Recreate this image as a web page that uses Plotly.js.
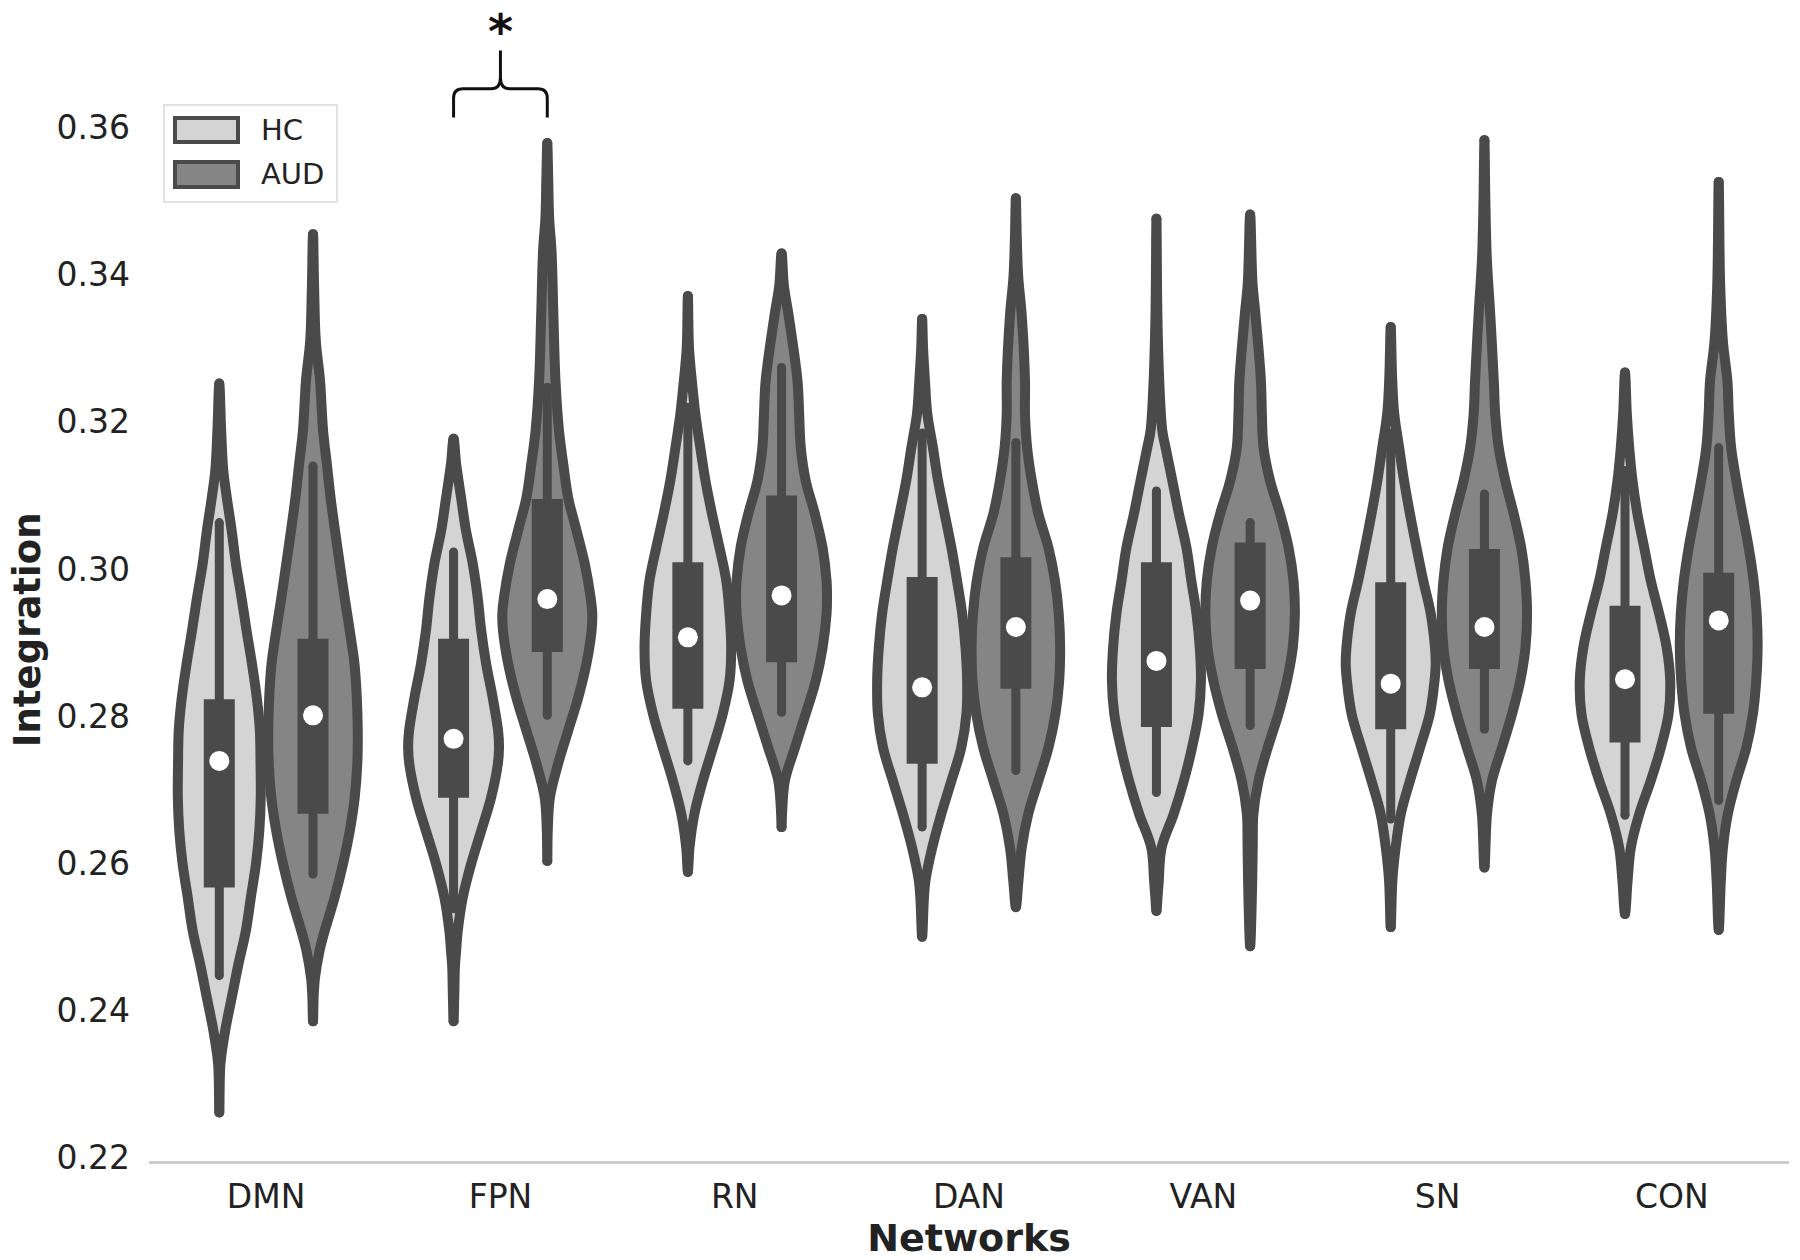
<!DOCTYPE html>
<html><head><meta charset="utf-8">
<script src="https://cdn.plot.ly/plotly-3.0.1.min.js"></script>
<style>html,body{margin:0;padding:0;background:#fff}</style>
</head><body><div id="chart" style="width:1800px;height:1260px"></div>
<script>
// ---------------- data ----------------
const networks = ['DMN','FPN','RN','DAN','VAN','SN','CON'];
const groups = ['HC','AUD'];
const yTicks = [0.22,0.24,0.26,0.28,0.30,0.32,0.34,0.36];

// inner box statistics
const hcQ1  = [0.2567,0.2689,0.2810,0.2735,0.2785,0.2782,0.2764];
const hcQ3  = [0.2823,0.2905,0.3009,0.2989,0.3009,0.2982,0.2950];
const hcMed = [0.2739,0.2769,0.2907,0.2839,0.2875,0.2844,0.2850];
const hcLo  = [0.2447,0.2538,0.2739,0.2649,0.2696,0.2660,0.2665];
const hcHi  = [0.3063,0.3023,0.3220,0.3185,0.3106,0.3185,0.3134];
const audQ1  = [0.2667,0.2887,0.2873,0.2837,0.2864,0.2864,0.2803];
const audQ3  = [0.2905,0.3095,0.3100,0.3016,0.3036,0.3027,0.2995];
const audMed = [0.2801,0.2959,0.2964,0.2921,0.2957,0.2921,0.2930];
const audLo  = [0.2585,0.2801,0.2805,0.2726,0.2787,0.2782,0.2685];
const audHi  = [0.3140,0.3247,0.3274,0.3172,0.3063,0.3102,0.3165];

// violin density outlines: levels (Integration) and half-widths (category units)
const dmnHcY  = [0.2261,0.2327,0.2372,0.2420,0.2460,0.2509,0.2554,0.2600,0.2645,0.2689,0.2736,0.2781,0.2825,0.2872,0.2917,0.2961,0.3007,0.3052,0.3097,0.3134,0.3188,0.3252];
const dmnHcW  = [0,0.005,0.025,0.055,0.080,0.114,0.135,0.157,0.171,0.177,0.176,0.173,0.160,0.139,0.116,0.095,0.071,0.053,0.032,0.017,0.008,0];
const dmnAudY = [0.2385,0.2420,0.2443,0.2481,0.2508,0.2553,0.2599,0.2644,0.2689,0.2735,0.2780,0.2825,0.2871,0.2916,0.2961,0.3007,0.3052,0.3097,0.3143,0.3188,0.3256,0.3310,0.3380,0.3455];
const dmnAudW = [0,0.003,0.008,0.028,0.050,0.092,0.128,0.157,0.178,0.189,0.191,0.187,0.177,0.157,0.135,0.114,0.094,0.075,0.059,0.043,0.030,0.012,0.005,0];
const fpnHcY  = [0.2385,0.2420,0.2460,0.2481,0.2508,0.2553,0.2599,0.2644,0.2689,0.2735,0.2758,0.2780,0.2825,0.2871,0.2916,0.2961,0.3007,0.3052,0.3097,0.3143,0.3177];
const fpnHcW  = [0,0.003,0.006,0.011,0.018,0.039,0.075,0.118,0.160,0.189,0.194,0.190,0.167,0.139,0.118,0.103,0.082,0.053,0.032,0.011,0];
const fpnAudY = [0.2603,0.2644,0.2689,0.2735,0.2780,0.2825,0.2871,0.2916,0.2939,0.2961,0.3007,0.3052,0.3097,0.3143,0.3188,0.3256,0.3345,0.3433,0.3477,0.3530,0.3579];
const fpnAudW = [0,0.002,0.011,0.046,0.089,0.132,0.167,0.189,0.192,0.185,0.160,0.125,0.089,0.068,0.050,0.035,0.026,0.018,0.008,0.004,0];
const rnHcY   = [0.2588,0.2621,0.2667,0.2712,0.2757,0.2803,0.2848,0.2893,0.2939,0.2984,0.3029,0.3075,0.3120,0.3165,0.3211,0.3256,0.3300,0.3371];
const rnHcW   = [0,0.007,0.028,0.064,0.107,0.149,0.178,0.185,0.178,0.164,0.135,0.103,0.075,0.053,0.032,0.017,0.005,0];
const rnAudY  = [0.2649,0.2667,0.2712,0.2757,0.2803,0.2848,0.2893,0.2939,0.2961,0.2984,0.3029,0.3075,0.3120,0.3165,0.3211,0.3256,0.3345,0.3385,0.3429];
const rnAudW  = [0,0.002,0.014,0.057,0.103,0.146,0.175,0.192,0.194,0.192,0.175,0.142,0.103,0.082,0.075,0.068,0.030,0.010,0];
const danHcY  = [0.2500,0.2549,0.2576,0.2621,0.2667,0.2712,0.2757,0.2803,0.2848,0.2893,0.2939,0.2984,0.3029,0.3075,0.3120,0.3165,0.3211,0.3256,0.3300,0.3340];
const danHcW  = [0,0.007,0.014,0.043,0.082,0.125,0.167,0.189,0.192,0.185,0.171,0.149,0.125,0.096,0.068,0.046,0.022,0.012,0.004,0];
const danAudY = [0.2540,0.2576,0.2621,0.2667,0.2712,0.2757,0.2803,0.2848,0.2893,0.2939,0.2984,0.3029,0.3075,0.3120,0.3165,0.3211,0.3256,0.3345,0.3398,0.3450,0.3504];
const danAudW = [0,0.011,0.025,0.053,0.096,0.139,0.169,0.185,0.189,0.183,0.167,0.139,0.096,0.068,0.048,0.039,0.039,0.025,0.010,0.004,0];
const vanHcY  = [0.2535,0.2555,0.2576,0.2621,0.2667,0.2712,0.2757,0.2803,0.2848,0.2893,0.2939,0.2984,0.3029,0.3075,0.3120,0.3165,0.3188,0.3256,0.3345,0.3476];
const vanHcW  = [0,0.005,0.010,0.022,0.074,0.117,0.152,0.180,0.190,0.185,0.171,0.149,0.128,0.096,0.068,0.039,0.025,0.012,0.004,0];
const vanAudY = [0.2487,0.2549,0.2621,0.2667,0.2712,0.2757,0.2803,0.2848,0.2893,0.2939,0.2984,0.3029,0.3075,0.3120,0.3165,0.3211,0.3256,0.3345,0.3389,0.3482];
const vanAudW = [0,0.007,0.011,0.014,0.036,0.075,0.121,0.157,0.182,0.191,0.185,0.164,0.128,0.085,0.057,0.050,0.046,0.023,0.010,0];
const snHcY   = [0.2513,0.2576,0.2621,0.2667,0.2712,0.2757,0.2803,0.2848,0.2871,0.2893,0.2939,0.2984,0.3029,0.3075,0.3120,0.3165,0.3211,0.3260,0.3329];
const snHcW   = [0,0.007,0.021,0.043,0.082,0.125,0.167,0.187,0.192,0.189,0.171,0.139,0.110,0.082,0.057,0.036,0.015,0.006,0];
const snAudY  = [0.2594,0.2667,0.2712,0.2757,0.2803,0.2848,0.2893,0.2939,0.2984,0.3029,0.3075,0.3120,0.3165,0.3211,0.3256,0.3345,0.3424,0.3500,0.3583];
const snAudW  = [0,0.011,0.032,0.075,0.118,0.153,0.175,0.182,0.175,0.157,0.125,0.089,0.061,0.046,0.040,0.025,0.010,0.004,0];
const conHcY  = [0.2531,0.2576,0.2621,0.2667,0.2712,0.2757,0.2803,0.2848,0.2893,0.2939,0.2984,0.3029,0.3075,0.3120,0.3165,0.3210,0.3267];
const conHcW  = [0,0.011,0.025,0.061,0.110,0.153,0.186,0.193,0.178,0.146,0.110,0.082,0.053,0.032,0.018,0.008,0];
const conAudY = [0.2509,0.2576,0.2621,0.2667,0.2712,0.2757,0.2803,0.2848,0.2893,0.2939,0.2984,0.3029,0.3075,0.3120,0.3165,0.3211,0.3256,0.3309,0.3389,0.3526];
const conAudW = [0,0.009,0.018,0.039,0.075,0.118,0.146,0.160,0.166,0.162,0.149,0.128,0.101,0.075,0.053,0.043,0.037,0.018,0.006,0];

const hcProfilesY  = [dmnHcY, fpnHcY, rnHcY, danHcY, vanHcY, snHcY, conHcY];
const hcProfilesW  = [dmnHcW, fpnHcW, rnHcW, danHcW, vanHcW, snHcW, conHcW];
const audProfilesY = [dmnAudY, fpnAudY, rnAudY, danAudY, vanAudY, snAudY, conAudY];
const audProfilesW = [dmnAudW, fpnAudW, rnAudW, danAudW, vanAudW, snAudW, conAudW];

// significance marker (FPN)
const sigCategory = 1;
const sigLabel = '*';

// ---------------- styling ----------------
const OUTLINE = '#4a4a4a';
const HC_FILL = '#d4d4d4';
const AUD_FILL = '#858585';
const TEXT = '#222222';
const DODGE = 0.2;
const LW = 10;
const FONT = 'DejaVu Sans, Liberation Sans, sans-serif';

const traces = [];
const tipX = [], tipY = [];

function addViolin(pos, ys, ws, fill, name) {
  const xs = [], yy = [];
  for (let i = 0; i < ys.length; i++) { xs.push(pos + ws[i]); yy.push(ys[i]); }
  for (let i = ys.length - 2; i >= 0; i--) { xs.push(pos - ws[i]); yy.push(ys[i]); }
  traces.push({
    type: 'scatter', mode: 'lines', x: xs, y: yy, name: name,
    fill: 'toself', fillcolor: fill,
    line: {color: OUTLINE, width: LW, shape: 'spline', smoothing: 1},
    hoverinfo: 'skip', showlegend: false
  });
  tipX.push(pos, pos); tipY.push(ys[0], ys[ys.length - 1]);
}

networks.forEach((n, i) => {
  addViolin(i - DODGE, hcProfilesY[i], hcProfilesW[i], HC_FILL, 'HC');
  addViolin(i + DODGE, audProfilesY[i], audProfilesW[i], AUD_FILL, 'AUD');
});

traces.push({type:'scatter', mode:'markers', x: tipX, y: tipY,
  marker:{color: OUTLINE, size: LW}, hoverinfo:'skip', showlegend:false});

function innerBox(offset, q1, q3, med, lo, hi) {
  const wx = [], wy = [], bx = [], by = [], mx = [], capX = [], capY = [];
  networks.forEach((n, i) => {
    const p = i + offset;
    wx.push(p, p, null); wy.push(lo[i], hi[i], null);
    bx.push(p, p, null); by.push(q1[i], q3[i], null);
    mx.push(p);
    capX.push(p, p); capY.push(lo[i], hi[i]);
  });
  traces.push({type:'scatter', mode:'lines', x: wx, y: wy,
    line:{color: OUTLINE, width: 9}, hoverinfo:'skip', showlegend:false});
  traces.push({type:'scatter', mode:'markers', x: capX, y: capY,
    marker:{color: OUTLINE, size: 9}, hoverinfo:'skip', showlegend:false});
  traces.push({type:'scatter', mode:'lines', x: bx, y: by,
    line:{color: OUTLINE, width: 31}, hoverinfo:'skip', showlegend:false});
  traces.push({type:'scatter', mode:'markers', x: mx, y: med,
    marker:{color:'#ffffff', size: 20, line:{width:0}}, hoverinfo:'skip', showlegend:false});
}
innerBox(-DODGE, hcQ1, hcQ3, hcMed, hcLo, hcHi);
innerBox(DODGE, audQ1, audQ3, audMed, audLo, audHi);

// significance bracket built from the compared positions
const bx1 = sigCategory - DODGE, bx2 = sigCategory + DODGE, bc = sigCategory;
const legY = 0.3614, barY = 0.3653, stemY = 0.3705, starY = 0.3731;
const leftPath  = `M${bx1},${legY} L${bx1},0.3640 Q${bx1},${barY} ${bx1+0.04},${barY} L${bc-0.04},${barY} Q${bc},${barY} ${bc},0.3668 L${bc},${stemY}`;
const rightPath = `M${bx2},${legY} L${bx2},0.3640 Q${bx2},${barY} ${bx2-0.04},${barY} L${bc+0.04},${barY} Q${bc},${barY} ${bc},0.3668`;

const layout = {
  width: 1800, height: 1260,
  margin: {l: 149, r: 11, t: 10, b: 99},
  paper_bgcolor: '#ffffff', plot_bgcolor: '#ffffff',
  font: {family: FONT, color: TEXT},
  showlegend: false,
  xaxis: {
    type: 'linear', range: [-0.5, 6.5],
    tickmode: 'array', tickvals: networks.map((n, i) => i), ticktext: networks,
    showgrid: false, zeroline: false, showline: true, linecolor: '#cccccc', linewidth: 3,
    ticks: '', ticklabelstandoff: 4,
    tickfont: {family: FONT, size: 33, color: TEXT},
    title: {text: 'Networks', font: {family: FONT, size: 38, weight: 'bold', color: TEXT}, standoff: 15}
  },
  yaxis: {
    range: [0.2195, 0.376],
    tickmode: 'array', tickvals: yTicks, tickformat: '.2f',
    showgrid: false, zeroline: false, showline: false, ticks: '',
    ticklabelstandoff: 18,
    tickfont: {family: FONT, size: 33, color: TEXT}
  },
  shapes: [
    {type:'path', xref:'x', yref:'y', path: leftPath, line:{color:'#111', width:3}},
    {type:'path', xref:'x', yref:'y', path: rightPath, line:{color:'#111', width:3}},
    {type:'rect', xref:'paper', yref:'paper', x0:0.00915, x1:0.1146, y0:0.8332, y1:0.9175,
      line:{color:'#d9d9d9', width:1.5}, fillcolor:'rgba(255,255,255,0.85)'},
    {type:'rect', xref:'paper', yref:'paper', x0:0.01585, x1:0.05427, y0:0.8853, y1:0.9062,
      line:{color:OUTLINE, width:4}, fillcolor:HC_FILL},
    {type:'rect', xref:'paper', yref:'paper', x0:0.01585, x1:0.05427, y0:0.8462, y1:0.8679,
      line:{color:OUTLINE, width:4}, fillcolor:AUD_FILL}
  ],
  annotations: [
    {text: groups[0], xref:'paper', yref:'paper', x:0.0668, y:0.8957, xanchor:'left', yanchor:'middle',
      showarrow:false, font:{family:FONT, size:29, color:TEXT}},
    {text: groups[1], xref:'paper', yref:'paper', x:0.0668, y:0.8575, xanchor:'left', yanchor:'middle',
      showarrow:false, font:{family:FONT, size:29, color:TEXT}},
    {text: sigLabel, xref:'x', yref:'y', x: bc, y: starY, xanchor:'center', yanchor:'middle',
      showarrow:false, font:{family:FONT, size:48, weight:'bold', color:'#111'}},
    {text: 'Integration', xref:'paper', yref:'y', x:-0.0744, y:0.2918, textangle:-90,
      xanchor:'center', yanchor:'middle', showarrow:false,
      font:{family:FONT, size:37, weight:'bold', color:TEXT}}
  ]
};

Plotly.newPlot('chart', traces, layout, {displayModeBar:false, staticPlot:true});
</script>
</body></html>
